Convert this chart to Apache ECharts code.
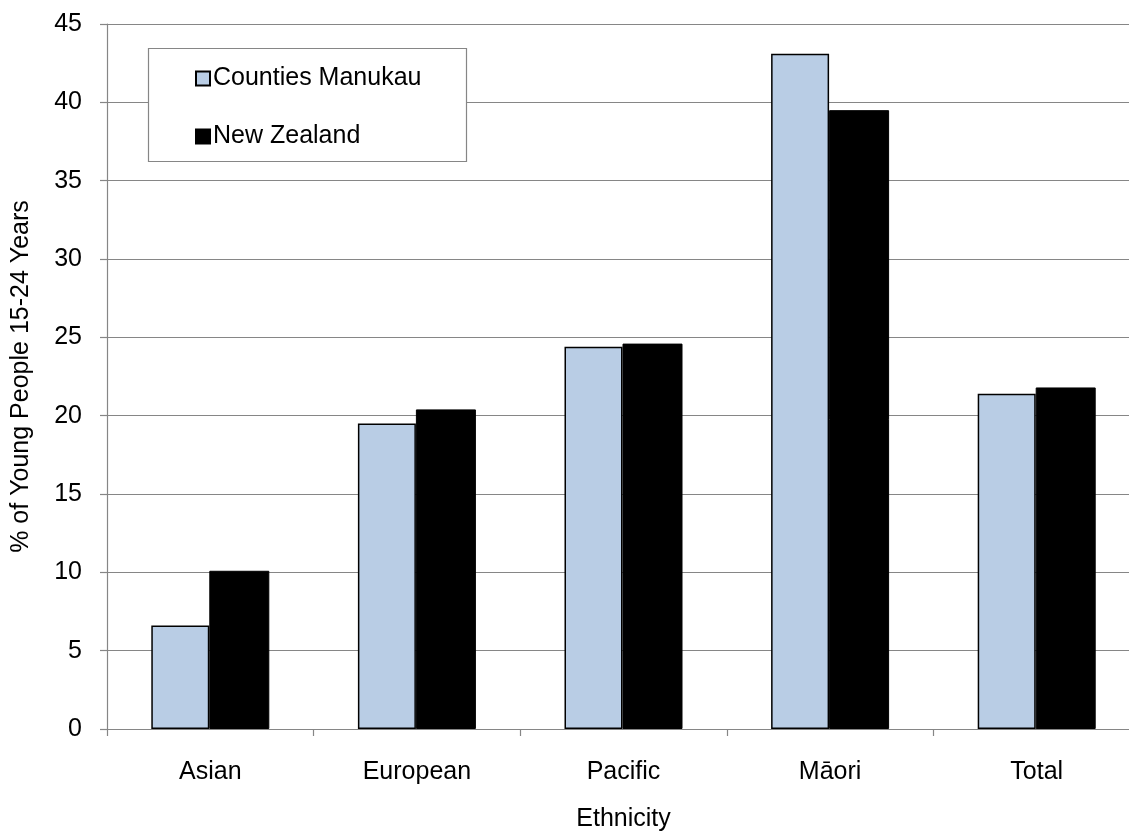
<!DOCTYPE html>
<html>
<head>
<meta charset="utf-8">
<script src="https://cdn.jsdelivr.net/npm/echarts@6/dist/echarts.min.js"></script>
<style>
html,body{margin:0;padding:0;background:#fff;overflow:hidden;}
#chart{width:1160px;height:837px;}
</style>
</head>
<body>
<div id="chart"></div>
<script>
const categories = ['Asian', 'European', 'Pacific', 'Māori', 'Total'];
const countiesManukau = [6.6, 19.5, 24.4, 43.1, 21.4];
const newZealand = [10.1, 20.4, 24.6, 39.5, 21.8];
const yTicks = { min: 0, max: 45, interval: 5 };
const seriesNames = ['Counties Manukau', 'New Zealand'];

const font = 'Liberation Sans, Arial, sans-serif';
const FS = 25;
const gridColor = '#868686';
const chart = echarts.init(document.getElementById('chart'), null, { renderer: 'canvas' });
chart.setOption({
  backgroundColor: '#ffffff',
  animation: false,
  textStyle: { fontFamily: font },
  grid: { left: 107, top: 24, width: 1033, height: 707.5, containLabel: false },
  graphic: [{
    type: 'rect',
    shape: { x: 148.5, y: 48.5, width: 318, height: 113 },
    style: { fill: '#ffffff', stroke: gridColor, lineWidth: 1.2 },
    z: 5
  }],
  legend: {
    orient: 'vertical',
    left: 195,
    top: 66,
    itemWidth: 14,
    itemHeight: 14,
    itemGap: 33,
    padding: 0,
    z: 10,
    textStyle: { fontSize: FS, color: '#000', fontFamily: font, padding: [0, 0, 0, -2] },
    data: seriesNames.map(n => ({ name: n, icon: 'rect' }))
  },
  xAxis: {
    type: 'category',
    data: categories,
    name: 'Ethnicity',
    nameLocation: 'middle',
    nameGap: 78,
    nameTextStyle: { fontSize: FS, color: '#000', fontFamily: font },
    axisLine: { lineStyle: { color: gridColor, width: 1.2 } },
    axisTick: { show: true, length: 7, lineStyle: { color: gridColor, width: 1.2 } },
    axisLabel: { fontSize: FS, color: '#000', margin: 31, fontFamily: font }
  },
  yAxis: {
    type: 'value',
    min: yTicks.min,
    max: yTicks.max,
    interval: yTicks.interval,
    name: '% of Young People 15-24 Years',
    nameLocation: 'middle',
    nameGap: 73,
    nameTextStyle: { fontSize: FS, color: '#000', fontFamily: font },
    axisLine: { show: true, lineStyle: { color: gridColor, width: 1.2 } },
    axisTick: { show: true, length: 7, lineStyle: { color: gridColor, width: 1.2 } },
    axisLabel: { fontSize: FS, color: '#000', margin: 25, fontFamily: font },
    splitLine: { show: true, lineStyle: { color: gridColor, width: 1.2 } }
  },
  series: [
    {
      name: seriesNames[0],
      type: 'bar',
      data: countiesManukau,
      barWidth: 58,
      barGap: '0%',
      itemStyle: { color: '#B9CDE5', borderColor: '#000', borderWidth: 1.5 }
    },
    {
      name: seriesNames[1],
      type: 'bar',
      data: newZealand,
      barWidth: 60,
      barGap: '0%',
      itemStyle: { color: '#000000', borderColor: '#000', borderWidth: 1 }
    }
  ]
});
</script>
</body>
</html>
